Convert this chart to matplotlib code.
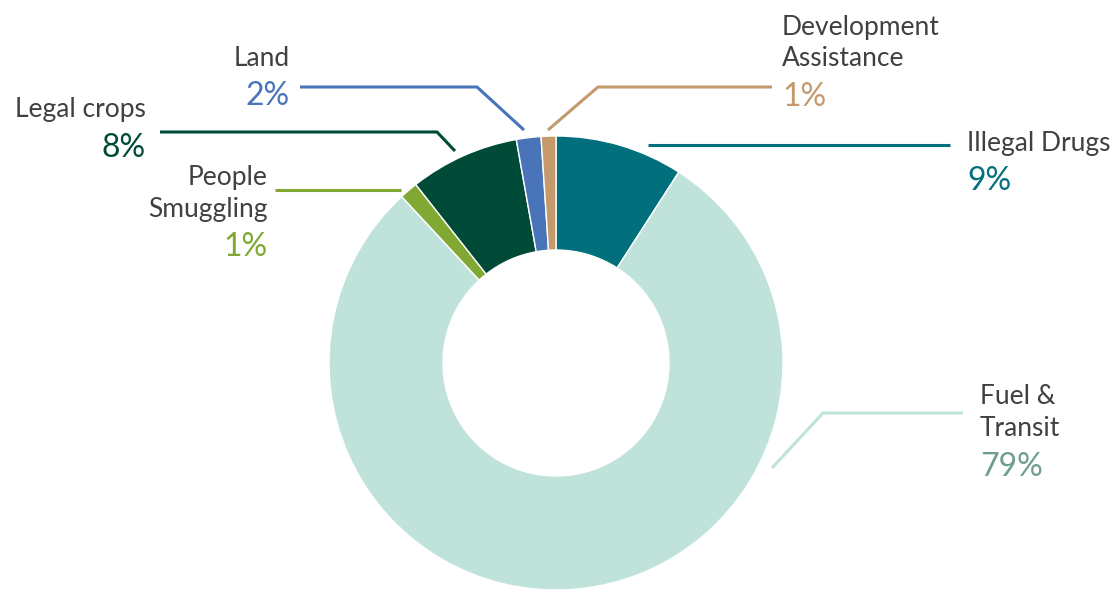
import matplotlib
matplotlib.use("Agg")
import matplotlib.pyplot as plt

categories = ["Illegal Drugs", "Fuel & Transit", "People Smuggling", "Legal crops", "Land", "Development Assistance"]
label_lines = [["Illegal Drugs"], ["Fuel &", "Transit"], ["People", "Smuggling"], ["Legal crops"], ["Land"], ["Development", "Assistance"]]
values = [9.1, 79.0, 1.3, 7.8, 1.75, 1.05]
colors = ["#02707C", "#BFE3DA", "#80A833", "#004B37", "#4A74BA", "#C49A6C"]
pct_colors = ["#02707C", "#6E9E8E", "#80A833", "#004B37", "#4A74BA", "#C49A6C"]

W, H = 1117, 590
fig = plt.figure(figsize=(W / 100, H / 100), dpi=100)
ax = fig.add_axes([0, 0, 1, 1])

cx, cy, R = 556, H - 363, 227
ax.pie(values, colors=colors, startangle=90, counterclock=False, center=(cx, cy), radius=R,
       wedgeprops=dict(width=114, edgecolor="white", linewidth=1.0), frame=True)
ax.set_xlim(0, W)
ax.set_ylim(0, H)
ax.set_aspect("equal")
ax.axis("off")

font = ["Lato", "DejaVu Sans"]
lab_size = 19
pct_size = 23
text_col = "#404040"

# leader lines (image coords, y down) and label anchors
layout = {
    0: dict(line=[(648, 145), (950, 145)], x=967, ha="left", y0=143),
    1: dict(line=[(772, 468), (823, 413), (963, 413)], x=980, ha="left", y0=397),
    2: dict(line=[(401, 190), (275, 190)], x=268, ha="right", y0=177),
    3: dict(line=[(455, 151), (437, 132), (160, 132)], x=146, ha="right", y0=110),
    4: dict(line=[(524, 130), (477, 87), (300, 87)], x=290, ha="right", y0=58),
    5: dict(line=[(548, 130), (598, 87), (772, 87)], x=782, ha="left", y0=27),
}
line_gap = 32
for i, cat in enumerate(categories):
    L = layout[i]
    xs = [p[0] for p in L["line"]]
    ys = [H - p[1] for p in L["line"]]
    ax.plot(xs, ys, color=colors[i], lw=2.2, solid_capstyle="butt")
    y = L["y0"]
    for t in label_lines[i]:
        ax.text(L["x"], H - y, t, ha=L["ha"], va="center", fontsize=lab_size, color=text_col, family=font)
        y += line_gap
    ax.text(L["x"], H - (y + 6), f"{round(values[i])}%", ha=L["ha"], va="center", fontsize=pct_size,
            color=pct_colors[i], family=font)

fig.savefig("out.png", dpi=100)
